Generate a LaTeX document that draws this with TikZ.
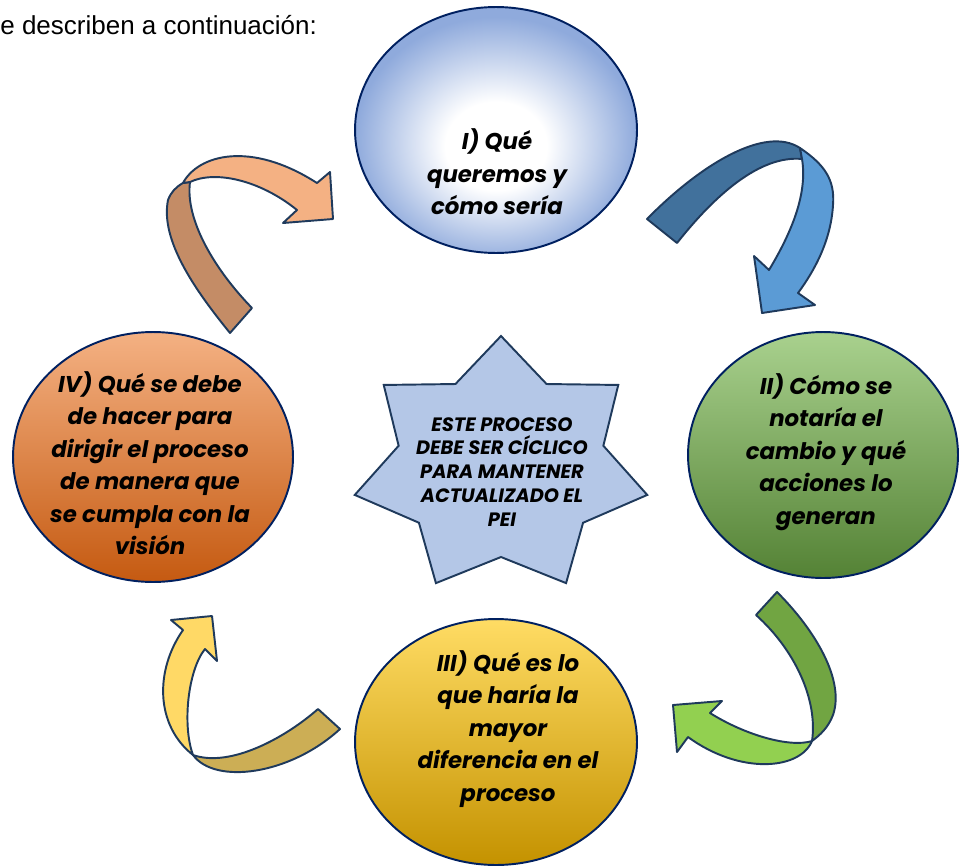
\documentclass[tikz,border=0pt]{standalone}
\usepackage{fontspec}
\setmainfont{Liberation Sans}
\newfontfamily\gothic{Poppins}
\usetikzlibrary{positioning,shapes.geometric,calc}
\definecolor{navy}{HTML}{002060}
\definecolor{rim}{HTML}{1F3A5C}
\definecolor{starblue}{HTML}{B4C7E7}
\definecolor{skyrim}{RGB}{143,170,220}
\pgfdeclareradialshading{glow}{\pgfpoint{0bp}{-4bp}}{color(0bp)=(white); color(9bp)=(white); color(25bp)=(skyrim); color(50bp)=(skyrim)}
\tikzstyle{bubble}=[ellipse, draw=navy, line width=1.1pt, inner sep=0pt]
\tikzstyle{bubtext}=[align=center, inner sep=0pt, font=\gothic\bfseries\itshape\fontsize{13}{18.5}\selectfont]
\tikzstyle{band}=[draw=rim, line width=1.1pt, line join=round]

\begin{document}
\begin{tikzpicture}[x=0.02cm,y=-0.02cm]
   \useasboundingbox (0,0) rectangle (959,865);
   \node[anchor=base west, inner sep=0pt, font=\fontsize{14.8}{17}\selectfont] (intro) at (0,35) {e describen a continuación:};
   % the four stages
   \node[bubble, minimum width=5.64cm, minimum height=4.92cm, shading=glow] (q1) at (496,130) {};
   \node[bubble, minimum width=5.4cm, minimum height=4.92cm, top color={rgb,255:red,169;green,209;blue,142}, middle color={rgb,255:red,112;green,173;blue,71}, bottom color={rgb,255:red,84;green,130;blue,53}] (q2) at (823,455) {};
   \node[bubble, minimum width=5.64cm, minimum height=4.92cm, top color={rgb,255:red,255;green,220;blue,100}, middle color={rgb,255:red,255;green,194;blue,0}, bottom color={rgb,255:red,196;green,146;blue,0}] (q3) at (496,742) {};
   \node[bubble, minimum width=5.6cm, minimum height=5cm, top color={rgb,255:red,244;green,177;blue,131}, middle color={rgb,255:red,237;green,125;blue,49}, bottom color={rgb,255:red,197;green,90;blue,17}] (q4) at (153,457) {};
   \node[bubtext] (t1) at ($(q1)+(1,42)$) {I) Qué\\queremos y\\cómo sería};
   \node[bubtext] (t2) at ($(q2)+(3,-3)$) {II) Cómo se\\notaría el\\cambio y qué\\acciones lo\\generan};
   \node[bubtext] (t3) at ($(q3)+(12,-13)$) {III) Qué es lo\\que haría la\\mayor\\diferencia en el\\proceso};
   \node[bubtext] (t4) at ($(q4)+(-3,6)$) {IV) Qué se debe\\de hacer para\\dirigir el proceso\\de manera que\\se cumpla con la\\visión};
   % star in the middle
   \filldraw[draw=rim, line width=1.1pt, fill=starblue, line join=miter]
     ($(501,466)+(-90:150 and 130)$)
     \foreach \k [evaluate=\k as \rx using {mod(\k,2)==0 ? 150 : 105},
                  evaluate=\k as \ry using {mod(\k,2)==0 ? 130 : 91}] in {1,...,13}
       { -- ($(501,466)+({-90+\k*360/14}:{\rx} and {\ry})$) } -- cycle;
   \node[align=center, inner sep=0pt, font=\gothic\bfseries\itshape\fontsize{11}{13.6}\selectfont] (pei) at (502,472)
     {ESTE PROCESO\\DEBE SER CÍCLICO\\PARA MANTENER\\ACTUALIZADO EL\\PEI};
   % I -> II
   \filldraw[band, fill={rgb,255:red,65;green,113;blue,156}] (647,219) .. controls (700,165) and (765,125) .. (800,148)
     -- (802,159) .. controls (760,155) and (715,195) .. (677,243) -- cycle;
   \filldraw[band, fill={rgb,255:red,91;green,155;blue,213}] (800,148) .. controls (825,165) and (835,180) .. (833,205)
     .. controls (831,240) and (815,270) .. (798,293) -- (815,305) -- (762,313) -- (754,256) -- (769,270)
     .. controls (790,235) and (808,195) .. (802,159) -- cycle;
   % II -> III
   \filldraw[band, fill={rgb,255:red,113;green,165;blue,66}] (777,592) .. controls (815,630) and (845,680) .. (833,715)
     .. controls (828,728) and (820,735) .. (812,741) .. controls (818,700) and (795,650) .. (756,615) -- cycle;
   \filldraw[band, fill={rgb,255:red,146;green,208;blue,80}] (812,741) .. controls (800,770) and (740,775) .. (688,737)
     -- (677,752) -- (673,705) -- (722,701) -- (710,713) .. controls (745,735) and (790,748) .. (812,741) -- cycle;
   % III -> IV
   \filldraw[band, fill={rgb,255:red,204;green,174;blue,85}] (318,709) .. controls (285,738) and (230,768) .. (193,755)
     .. controls (215,785) and (290,775) .. (340,729) -- cycle;
   \filldraw[band, fill={rgb,255:red,255;green,217;blue,102}] (193,755) .. controls (155,725) and (155,670) .. (183,630)
     -- (171,620) -- (212,616) -- (217,661) -- (205,649) .. controls (188,670) and (182,725) .. (193,755) -- cycle;
   % IV -> I
   \filldraw[band, fill={rgb,255:red,196;green,140;blue,102}] (230,333) .. controls (195,290) and (160,240) .. (168,200)
     .. controls (171,192) and (176,187) .. (183,183) -- (190,182) .. controls (185,220) and (215,270) .. (252,308) -- cycle;
   \filldraw[band, fill={rgb,255:red,244;green,177;blue,131}] (183,183) .. controls (198,155) and (250,140) .. (317,183)
     -- (330,172) -- (333,219) -- (283,223) -- (297,210) .. controls (260,180) and (215,170) .. (190,182) -- cycle;
\end{tikzpicture}
\end{document}
